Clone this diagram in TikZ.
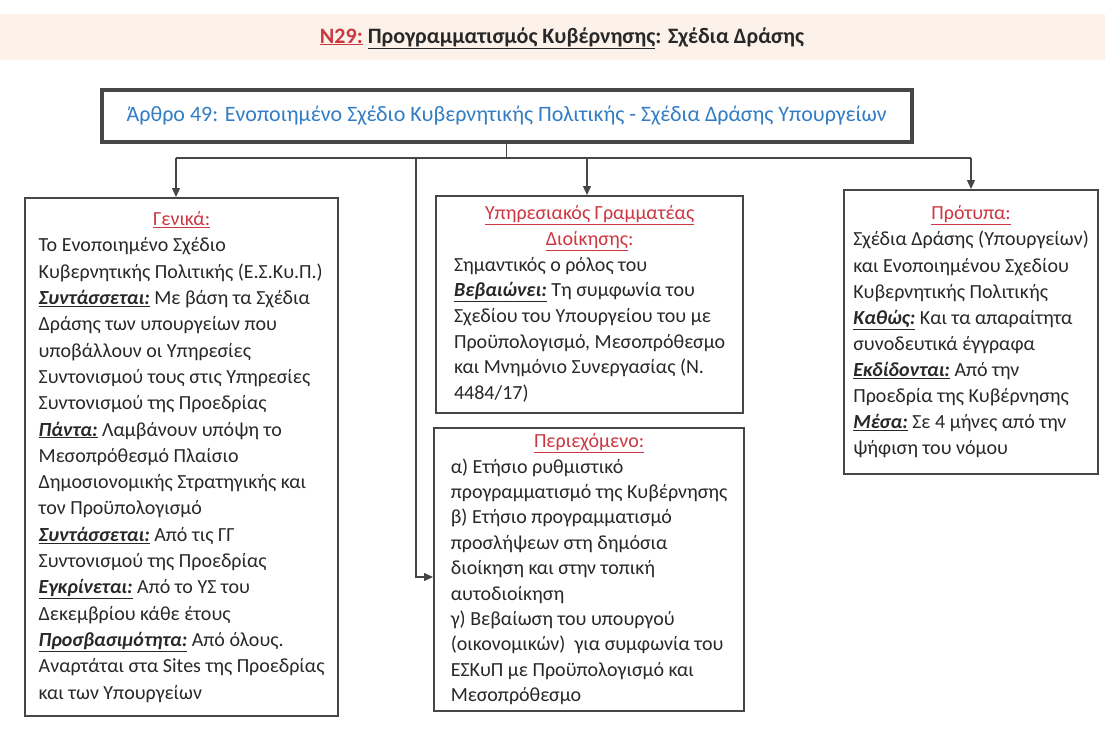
\documentclass[tikz,border=0pt]{standalone}
\usepackage{fontspec}
\setmainfont{Carlito}
\usetikzlibrary{arrows.meta}
\definecolor{txt}{RGB}{40,40,40}
\definecolor{frame}{RGB}{70,70,70}
\definecolor{headred}{RGB}{205,55,65}
\definecolor{topblue}{RGB}{50,125,195}
\definecolor{band}{RGB}{253,242,234}
\newcommand{\keyw}[1]{\underline{\textbf{\textit{#1}}}}
\newcommand{\headr}[1]{\textcolor{headred}{\underline{#1}}}
\newcommand{\midline}[1]{\multicolumn{1}{@{}c@{}}{#1}}
\newenvironment{lines}{\begin{tabular}{@{}l@{}}}{\end{tabular}}
\begin{document}
\begin{tikzpicture}[x=1pt,y=-1pt,
  panel/.style={draw=frame, line width=2.2pt, fill=white, anchor=north west,
    inner sep=0pt, text=txt},
  conn/.style={draw=frame, line width=1.3pt},
  tip/.style={conn, -{Triangle[length=9pt,width=8pt]}}]
\useasboundingbox (0,0) rectangle (1105,731);
\fill[white] (0,0) rectangle (1105,731);
\fill[band] (0,14) rectangle (1105,60);

\node[text=txt, font=\fontsize{22}{26}\selectfont\bfseries] (title) at (562,38)
  {\textcolor{headred}{\underline{N29:}} \underline{Προγραμματισμός Κυβέρνησης}: Σχέδια Δράσης};

\node[draw=frame, line width=3.6pt, fill=white, anchor=north west,
  minimum width=810pt, minimum height=52pt, text=topblue,
  font=\fontsize{22}{26}\selectfont] (top) at (100,88)
  {Άρθρο 49: Ενοποιημένο Σχέδιο Κυβερνητικής Πολιτικής - Σχέδια Δράσης Υπουργείων};

\node[panel, minimum width=313pt, minimum height=518pt,
  font=\fontsize{20}{26.3}\selectfont] (general) at (24,197)
  {\begin{lines}
   \midline{\headr{Γενικά:}}\\
   Το Ενοποιημένο Σχέδιο\\
   Κυβερνητικής Πολιτικής (Ε.Σ.Κυ.Π.)\\
   \keyw{Συντάσσεται:} Με βάση τα Σχέδια\\
   Δράσης των υπουργείων που\\
   υποβάλλουν οι Υπηρεσίες\\
   Συντονισμού τους στις Υπηρεσίες\\
   Συντονισμού της Προεδρίας\\
   \keyw{Πάντα:} Λαμβάνουν υπόψη το\\
   Μεσοπρόθεσμό Πλαίσιο\\
   Δημοσιονομικής Στρατηγικής και\\
   τον Προϋπολογισμό\\
   \keyw{Συντάσσεται:} Από τις ΓΓ\\
   Συντονισμού της Προεδρίας\\
   \keyw{Εγκρίνεται:} Από το ΥΣ του\\
   Δεκεμβρίου κάθε έτους\\
   \keyw{Προσβασιμότητα:} Από όλους.\\
   Αναρτάται στα Sites της Προεδρίας\\
   και των Υπουργείων
   \end{lines}};

\node[panel, minimum width=307pt, minimum height=217pt,
  font=\fontsize{20}{25.7}\selectfont] (official) at (435,195)
  {\begin{lines}
   \midline{\headr{Υπηρεσιακός Γραμματέας}}\\
   \midline{\headr{Διοίκησης}\textcolor{headred}{:}}\\
   Σημαντικός ο ρόλος του\\
   \keyw{Βεβαιώνει:} Τη συμφωνία του\\
   Σχεδίου του Υπουργείου του με\\
   Προϋπολογισμό, Μεσοπρόθεσμο\\
   και Μνημόνιο Συνεργασίας (Ν.\\
   4484/17)
   \end{lines}};

\node[panel, minimum width=310pt, minimum height=283pt,
  font=\fontsize{20}{25.4}\selectfont] (content) at (433,427)
  {\begin{lines}
   \midline{\headr{Περιεχόμενο:}}\\
   α) Ετήσιο ρυθμιστικό\\
   προγραμματισμό της Κυβέρνησης\\
   β) Ετήσιο προγραμματισμό\\
   προσλήψεων στη δημόσια\\
   διοίκηση και στην τοπική\\
   αυτοδιοίκηση\\
   γ) Βεβαίωση του υπουργού\\
   (οικονομικών)\ \ για συμφωνία του\\
   ΕΣΚυΠ με Προϋπολογισμό και\\
   Μεσοπρόθεσμο
   \end{lines}};

\node[panel, minimum width=254pt, minimum height=284pt,
  font=\fontsize{20}{26.1}\selectfont] (models) at (843,189)
  {\begin{lines}
   \midline{\headr{Πρότυπα:}}\\
   Σχέδια Δράσης (Υπουργείων)\\
   και Ενοποιημένου Σχεδίου\\
   Κυβερνητικής Πολιτικής\\
   \keyw{Καθώς:} Και τα απαραίτητα\\
   συνοδευτικά έγγραφα\\
   \keyw{Εκδίδονται:} Από την\\
   Προεδρία της Κυβέρνησης\\
   \keyw{Μέσα:} Σε 4 μήνες από την\\
   ψήφιση του νόμου
   \end{lines}};

\coordinate (hub) at (top.south |- 0,158);
\coordinate (tapL) at (176,158);
\coordinate (tapB) at (416,158);
\coordinate (tapM) at (587,158);
\coordinate (tapR) at (971,158);
\coordinate (bend) at (416,577);

\draw[conn] (top.south) -- (hub);
\draw[conn] (tapL) -- (tapR);
\draw[tip] (tapL) -- (tapL |- general.north);
\draw[tip] (tapM) -- (tapM |- official.north);
\draw[tip] (tapR) -- (tapR |- models.north);
\draw[tip] (tapB) -- (bend) -- (bend -| content.west);
\end{tikzpicture}
\end{document}
